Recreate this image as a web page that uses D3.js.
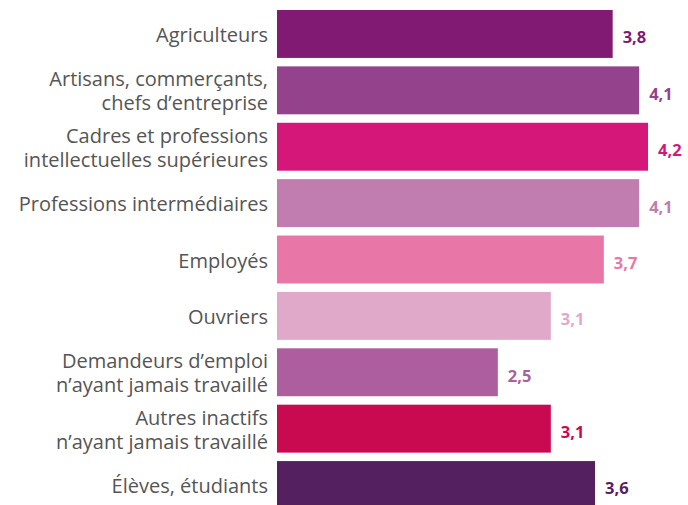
<!DOCTYPE html>
<html>
<head>
<meta charset="utf-8">
<script src="https://cdn.jsdelivr.net/npm/d3@7"></script>
<style>
  html, body { margin: 0; padding: 0; background: #fff; }
  svg { display: block; }
</style>
</head>
<body>
<svg id="chart" width="688" height="505"></svg>
<script>
// Socio-professional categories (label lines) and their values
const categories = [
  ["Agriculteurs"],
  ["Artisans, commerçants,", "chefs d’entreprise"],
  ["Cadres et professions", "intellectuelles supérieures"],
  ["Professions intermédiaires"],
  ["Employés"],
  ["Ouvriers"],
  ["Demandeurs d’emploi", "n’ayant jamais travaillé"],
  ["Autres inactifs", "n’ayant jamais travaillé"],
  ["Élèves, étudiants"]
];
const values = [3.8, 4.1, 4.2, 4.1, 3.7, 3.1, 2.5, 3.1, 3.6];
const colors = ["#801a72", "#94428c", "#d5177a", "#c17db0", "#e877a8",
                "#e0a9c9", "#ac5e9f", "#c90a51", "#55205f"];

const svg = d3.select("#chart");
const keys = categories.map(c => c.join(" "));

const x = d3.scaleLinear().domain([0, 4.2]).range([277, 648]);
const y = d3.scaleBand().domain(keys).range([10, 509]).paddingInner(0.15).paddingOuter(0);

const rows = keys.map((k, i) => ({ key: k, lines: categories[i], value: values[i], color: colors[i] }));

// Bars
svg.append("g").selectAll("rect")
  .data(rows)
  .join("rect")
  .attr("x", x(0))
  .attr("y", d => y(d.key))
  .attr("width", d => x(d.value) - x(0))
  .attr("height", y.bandwidth())
  .attr("fill", d => d.color);

// Value labels, same colour as their bar
const fmt = v => d3.format(".1f")(v).replace(".", ",");
svg.append("g").selectAll("text")
  .data(rows)
  .join("text")
  .attr("x", d => x(d.value) + 10)
  .attr("y", d => y(d.key) + y.bandwidth() / 2 + 5)
  .attr("dominant-baseline", "middle")
  .attr("font-family", "'Open Sans', sans-serif")
  .attr("font-weight", 700)
  .attr("font-size", 16.5)
  .attr("fill", d => d.color)
  .text(d => fmt(d.value));

// Category labels, right-aligned against the bars
const lineH = 24;
const cat = svg.append("g").selectAll("text")
  .data(rows)
  .join("text")
  .attr("text-anchor", "end")
  .attr("font-family", "'Open Sans', sans-serif")
  .attr("font-size", 20)
  .attr("fill", "#555")
  .attr("transform", d => `translate(268,${y(d.key) + y.bandwidth() / 2 + 1})`);

cat.selectAll("tspan")
  .data(d => d.lines.map((t, i) => ({ t, i, n: d.lines.length })))
  .join("tspan")
  .attr("x", 0)
  .attr("y", d => (d.i - (d.n - 1) / 2) * lineH)
  .attr("dy", "0.35em")
  .text(d => d.t);
</script>
</body>
</html>
